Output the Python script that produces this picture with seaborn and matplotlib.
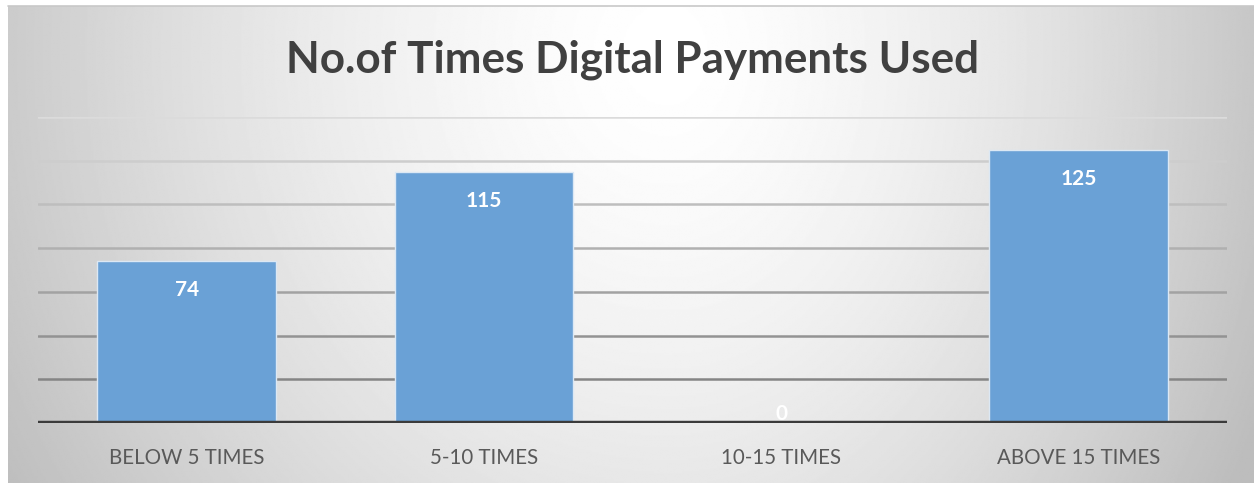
import numpy as np
import pandas as pd
import seaborn as sns
import matplotlib.pyplot as plt

categories = ["BELOW 5 TIMES", "5-10 TIMES", "10-15 TIMES", "ABOVE 15 TIMES"]
counts = [74, 115, 0, 125]
y_ticks = [20, 40, 60, 80, 100, 120, 140]
title = "No.of Times Digital Payments Used"

df = pd.DataFrame({"category": categories, "count": counts})

sns.set_theme(style="white")
plt.rcParams["font.family"] = ["Lato", "DejaVu Sans"]

W, H = 1254, 483
fig = plt.figure(figsize=(W / 100, H / 100), dpi=100)
fig.patch.set_facecolor("white")

# panel with a soft radial grey gradient
bg = fig.add_axes([8 / W, 0, 1 - 8 / W, (H - 6) / H])
yy, xx = np.mgrid[0:1:300j, 0:1:800j]
cx = 0.53
sx = np.where(xx < cx, 0.56, 0.47)
d = np.sqrt(((xx - cx) / sx) ** 2 + ((yy - 0.1) / 1.6) ** 2)
shade = np.clip(1.0 - 0.22 * d ** 1.5, 0.74, 1.0)
bg.imshow(shade, cmap="gray", vmin=0, vmax=1, aspect="auto",
          interpolation="bilinear", extent=[0, 1, 0, 1])
bg.set_axis_off()
fig.add_artist(plt.Line2D([8 / W, 1], [(H - 5.5) / H] * 2, color="#c8c8c8", lw=1.2))

ax = fig.add_axes([38 / W, (H - 423) / H, (1227 - 38) / W, (423 - 117) / H])
ax.set_facecolor("none")
sns.barplot(data=df, x="category", y="count", width=0.6, color="#6aa1d6",
            saturation=1, edgecolor="#dce8f4", linewidth=1.0, ax=ax, zorder=3)
ax.set_xlim(-0.5, 3.5)
ax.set_ylim(0, 140)

# gridlines fade from dark near the baseline to light at the top
grid_shades = np.linspace(0.52, 0.86, len(y_ticks))
for t, g in zip(y_ticks, grid_shades):
    ax.axhline(t, color=str(g), lw=1.8, zorder=1)

ax.tick_params(axis="y", left=False, labelleft=False)
ax.tick_params(axis="x", bottom=False, pad=12, labelsize=14.8, labelcolor="#595959")
for s in ax.spines.values():
    s.set_visible(False)
ax.axhline(0, color="#3b3b3b", lw=3.2, zorder=5)
ax.set_xlabel("")
ax.set_ylabel("")

px_per_unit = (423 - 117) / 140
for i, v in enumerate(counts):
    off = max(-29, 9 - v * px_per_unit)
    ax.annotate(f"{v}", (i, v), xytext=(0, off), textcoords="offset pixels",
                ha="center", va="center", color="white", fontsize=15,
                fontweight="bold", zorder=6)

fig.text(632 / W, (H - 60) / H, title, ha="center", va="center",
         fontsize=31.7, fontweight="bold", color="#404040")

fig.savefig("out.png", dpi=100)
